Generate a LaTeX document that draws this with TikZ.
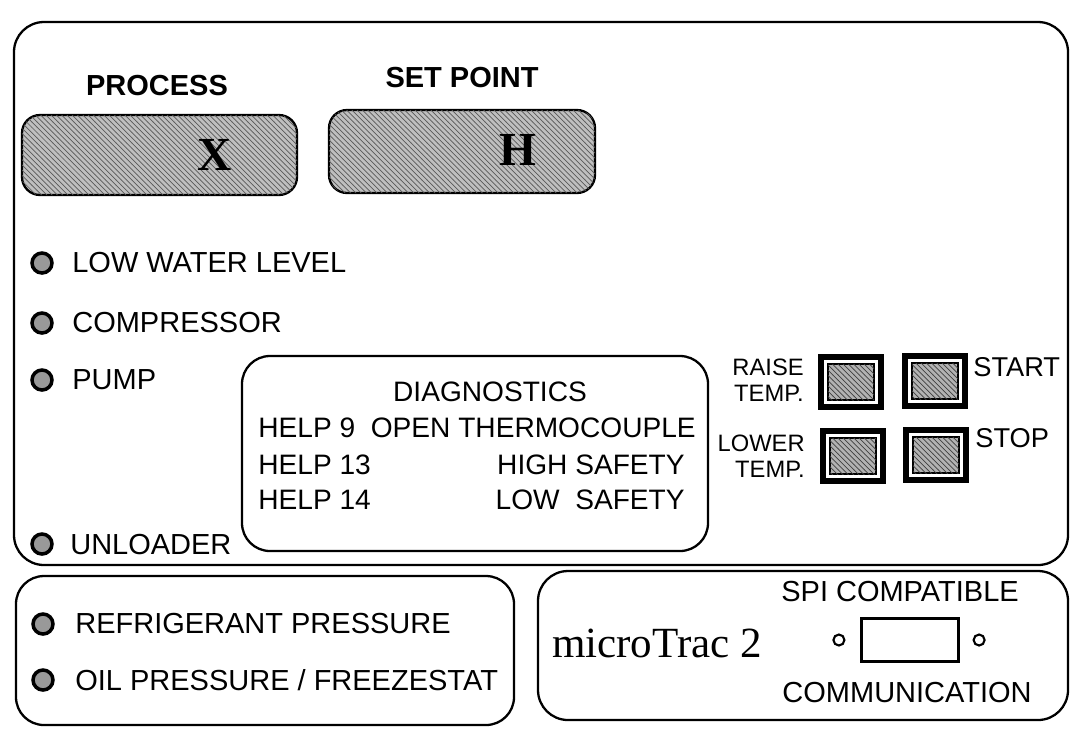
\documentclass[tikz,border=0pt]{standalone}
\usepackage{fontspec}
\setmainfont{Liberation Serif}
\setsansfont{Liberation Sans}
\usepackage{tikz}
\usetikzlibrary{patterns,positioning}

\begin{document}
\begin{tikzpicture}[
    x=0.02cm, y=-0.02cm,
    panel/.style={draw=black, line width=1.3pt, rounded corners=0.6cm},
    display/.style={draw=black, line width=1.3pt, rounded corners=0.36cm, fill=black!25,
        postaction={pattern=north west lines, pattern color=black!65}},
    lamp/.style={circle, draw=black, line width=2pt, fill=black!40, minimum size=0.4cm, inner sep=0pt},
    lbl/.style={font=\sffamily\fontsize{16.5}{18}\selectfont, inner sep=0pt},
    diagtxt/.style={font=\sffamily\fontsize{16}{18}\selectfont, inner sep=0pt},
    head/.style={font=\sffamily\bfseries\fontsize{16.5}{18}\selectfont, inner sep=0pt},
    readout/.style={font=\bfseries\fontsize{27}{28}\selectfont, inner sep=0pt},
    keytxt/.style={font=\sffamily\fontsize{13.5}{14.7}\selectfont, inner sep=0pt, align=right},
    keyframe/.style={rectangle, draw=black, line width=3pt, minimum width=1.2cm, minimum height=1.0cm, inner sep=0pt},
    keypad/.style={rectangle, draw=black, line width=0.6pt, minimum width=0.92cm, minimum height=0.72cm, inner sep=0pt,
        fill=black!30, postaction={pattern=north west lines, pattern color=black!75}},
    port/.style={circle, draw=black, line width=1.2pt, minimum size=0.22cm, inner sep=0pt}
]
    \useasboundingbox (0,0) rectangle (1070,728);
    \fill[white] (0,0) rectangle (1070,728);

    % Main panel
    \draw[panel] (14,22) rectangle (1068,565);

    % Readouts
    \node[head] (proclbl) at (157,86) {PROCESS};
    \node[head] (setlbl) at (462,78) {SET POINT};
    \draw[display] (22,115) rectangle (297,195);
    \draw[display] (329,110) rectangle (595,193);
    \node[readout] (procval) at (215,155) {X};
    \node[readout] (setval) at (518,150) {H};

    % Status lamps
    \node[lamp] (lamplow) at (42,263) {};
    \node[lbl, anchor=west] (txtlow) at (72,263) {LOW WATER LEVEL};
    \node[lamp] (lampcomp) at (42,323) {};
    \node[lbl, anchor=west] (txtcomp) at (72,323) {COMPRESSOR};
    \node[lamp] (lamppump) at (42,380) {};
    \node[lbl, anchor=west] (txtpump) at (72,380) {PUMP};
    \node[lamp] (lampunl) at (42,544) {};
    \node[lbl, anchor=west] (txtunl) at (70,545) {UNLOADER};

    % Diagnostics window
    \draw[panel, rounded corners=0.56cm] (242,356) rectangle (708,551);
    \node[diagtxt] (diag) at (490,392) {DIAGNOSTICS};
    \node[diagtxt, anchor=west] (help9) at (258,428) {HELP 9\ \ OPEN THERMOCOUPLE};
    \node[diagtxt, anchor=west] (help13) at (258,465) {HELP 13};
    \node[diagtxt, anchor=east] (hisafe) at (685,465) {HIGH SAFETY};
    \node[diagtxt, anchor=west] (help14) at (258,500) {HELP 14};
    \node[diagtxt, anchor=east] (losafe) at (685,500) {LOW\ \ SAFETY};

    % Keys
    \node[keyframe] (raise) at (851,382) {};
    \node[keypad] (raisepad) at (raise) {};
    \node[keyframe] (start) at (935,381) {};
    \node[keypad] (startpad) at (start) {};
    \node[keyframe] (lower) at (853,456) {};
    \node[keypad] (lowerpad) at (lower) {};
    \node[keyframe] (stop) at (936,455) {};
    \node[keypad] (stoppad) at (stop) {};
    \node[keytxt, anchor=east] (raisetxt) at (804,380) {RAISE\\TEMP.};
    \node[keytxt, anchor=east] (lowertxt) at (805,456) {LOWER\\TEMP.};
    \node[lbl, anchor=west, font=\sffamily\fontsize{15.5}{17}\selectfont] (starttxt) at (973,367) {START};
    \node[lbl, anchor=west, font=\sffamily\fontsize{15.5}{17}\selectfont] (stoptxt) at (975,438) {STOP};

    % Pressure lamps
    \draw[panel, rounded corners=0.56cm] (16,576) rectangle (514,725);
    \node[lamp] (lampref) at (43,624) {};
    \node[lbl, anchor=west] (txtref) at (75,624) {REFRIGERANT PRESSURE};
    \node[lamp] (lampoil) at (43,680) {};
    \node[lbl, anchor=west] (txtoil) at (75,680) {OIL PRESSURE / FREEZESTAT};

    % Communication
    \draw[panel] (538,571) rectangle (1068,720);
    \node[font=\fontsize{24.5}{26}\selectfont, inner sep=0pt] (brand) at (657,643) {microTrac 2};
    \node[lbl] (spi) at (900,592) {SPI COMPATIBLE};
    \node[draw=black, line width=1.2pt, minimum width=1.94cm, minimum height=0.86cm, inner sep=0pt] (socket) at (910,640) {};
    \node[port, left=0.3cm of socket] (portl) {};
    \node[port, right=0.26cm of socket] (portr) {};
    \node[lbl] (comm) at (907,692) {COMMUNICATION};
\end{tikzpicture}
\end{document}
